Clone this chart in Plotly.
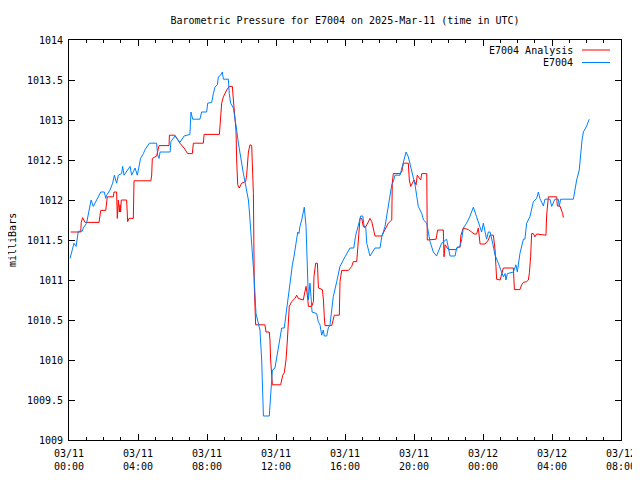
import pandas as pd
import plotly.graph_objects as go

# ---- data (hours after 2025-03-11 00:00 UTC, pressure in mbar) ----
start_time = "2025-03-11 00:00"

analysis_hours = [0.10, 0.68, 0.71, 0.79, 0.93, 1.74, 1.84, 2.13, 2.22, 2.57, 2.61, 2.76, 2.80, 2.86,
                  2.92, 2.96, 2.99, 3.03, 3.34, 3.40, 3.48, 3.73, 3.77, 4.74, 4.79, 4.83, 5.08, 5.12,
                  5.22, 5.80, 5.82, 6.14, 6.43, 6.67, 6.88, 7.15, 7.21, 7.79, 7.83, 8.72, 8.79, 8.85,
                  8.95, 9.14, 9.29, 9.47, 9.53, 9.58, 9.68, 9.72, 9.78, 9.87, 10.01, 10.24, 10.30,
                  10.40, 10.49, 10.59, 10.65, 10.69, 10.74, 10.82, 11.36, 11.42, 11.61, 11.65, 11.69,
                  11.75, 11.79, 12.27, 12.39, 12.48, 12.58, 12.66, 12.77, 12.91, 13.10, 13.20, 13.29,
                  13.58, 13.74, 13.82, 13.88, 14.07, 14.17, 14.20, 14.30, 14.40, 14.46, 14.69, 14.75,
                  14.80, 14.84, 15.23, 15.38, 15.67, 15.71, 15.81, 16.20, 16.39, 16.48, 16.68, 16.77,
                  16.87, 16.97, 17.06, 17.22, 17.45, 17.55, 17.74, 18.13, 18.32, 18.51, 18.71, 18.74,
                  18.80, 19.19, 19.29, 19.38, 19.67, 19.73, 19.81, 20.00, 20.12, 20.19, 20.39, 20.45,
                  20.74, 20.77, 21.28, 21.37, 21.70, 21.74, 21.80, 22.00, 22.47, 22.51, 22.67, 22.72,
                  22.86, 23.15, 23.34, 23.48, 23.63, 23.73, 23.83, 24.12, 24.31, 24.41, 24.60, 24.70,
                  24.75, 24.79, 24.99, 25.08, 25.18, 25.76, 25.82, 26.14, 26.24, 26.34, 26.53, 26.63,
                  26.69, 26.76, 26.82, 26.92, 27.01, 27.11, 27.65, 27.69, 27.79, 28.27, 28.31, 28.46,
                  28.55, 28.62, 28.66]
analysis_mbar = [1011.60, 1011.60, 1011.72, 1011.78, 1011.72, 1011.72, 1011.87, 1011.87, 1012.04, 1012.04,
                 1012.10, 1012.10, 1011.77, 1012.00, 1011.85, 1011.94, 1011.85, 1012.00, 1012.00, 1011.73,
                 1011.77, 1011.77, 1012.24, 1012.24, 1012.30, 1012.52, 1012.55, 1012.60, 1012.68, 1012.68,
                 1012.81, 1012.81, 1012.71, 1012.65, 1012.58, 1012.58, 1012.71, 1012.71, 1012.82, 1012.82,
                 1013.04, 1013.21, 1013.29, 1013.375, 1013.42, 1013.42, 1013.25, 1013.15, 1012.875, 1012.50,
                 1012.19, 1012.15, 1012.21, 1012.23, 1012.31, 1012.60, 1012.69, 1012.68, 1012.375, 1012.08,
                 1010.92, 1010.44, 1010.44, 1010.35, 1010.35, 1010.25, 1010.00, 1009.79, 1009.69, 1009.69,
                 1009.81, 1009.84, 1010.00, 1010.25, 1010.67, 1010.73, 1010.77, 1010.81, 1010.77, 1010.75,
                 1010.92, 1010.81, 1010.67, 1010.67, 1010.73, 1011.04, 1011.21, 1011.21, 1010.90, 1010.88,
                 1010.75, 1010.54, 1010.43, 1010.43, 1010.56, 1010.56, 1010.98, 1011.12, 1011.12, 1011.17,
                 1011.23, 1011.23, 1011.50, 1011.77, 1011.77, 1011.67, 1011.67, 1011.77, 1011.73, 1011.55,
                 1011.55, 1011.625, 1011.71, 1011.75, 1012.21, 1012.33, 1012.33, 1012.35, 1012.46, 1012.46,
                 1012.25, 1012.17, 1012.25, 1012.19, 1012.31, 1012.25, 1012.33, 1012.33, 1011.50, 1011.51,
                 1011.625, 1011.625, 1011.29, 1011.44, 1011.38, 1011.38, 1011.41, 1011.41, 1011.56, 1011.65,
                 1011.63, 1011.60, 1011.575, 1011.575, 1011.65, 1011.45, 1011.45, 1011.50, 1011.56, 1011.56,
                 1011.375, 1011.17, 1011.01, 1011.00, 1011.06, 1011.15, 1011.15, 1010.88, 1010.88, 1010.94,
                 1010.97, 1010.98, 1011.00, 1011.09, 1011.29, 1011.58, 1011.58, 1011.54, 1011.575, 1011.56,
                 1011.81, 1012.04, 1012.04, 1011.925, 1011.925, 1011.875, 1011.83, 1011.78]

station_hours = [0.06, 0.21, 0.29, 0.41, 0.48, 0.54, 0.77, 0.83, 1.02, 1.16, 1.28, 1.41, 1.51, 1.64, 1.84,
                 2.05, 2.13, 2.18, 2.38, 2.53, 2.63, 2.76, 2.86, 3.05, 3.11, 3.19, 3.54, 3.63, 3.83, 3.96,
                 4.08, 4.15, 4.31, 4.41, 4.66, 5.08, 5.14, 5.22, 5.28, 5.86, 5.91, 6.14, 6.43, 6.67, 7.01,
                 7.07, 7.17, 7.59, 7.69, 7.98, 8.04, 8.27, 8.37, 8.46, 8.60, 8.66, 8.79, 8.89, 8.95, 9.24,
                 9.29, 9.37, 9.53, 9.62, 9.72, 9.82, 9.91, 10.01, 10.11, 10.20, 10.30, 10.40, 10.45, 10.49,
                 10.59, 10.69, 10.74, 10.84, 10.98, 11.07, 11.17, 11.23, 11.27, 11.61, 11.69, 11.79, 11.94,
                 12.04, 12.14, 12.23, 12.33, 12.48, 12.56, 12.68, 12.77, 12.85, 12.95, 13.04, 13.10, 13.20,
                 13.26, 13.33, 13.39, 13.49, 13.58, 13.64, 13.74, 13.82, 13.88, 13.93, 13.97, 14.03, 14.09,
                 14.36, 14.45, 14.55, 14.65, 14.74, 14.80, 14.94, 15.03, 15.13, 15.23, 15.32, 15.52, 15.71,
                 16.00, 16.29, 16.51, 16.62, 16.83, 16.91, 17.03, 17.12, 17.20, 17.26, 17.45, 17.74, 18.03,
                 18.13, 18.32, 18.51, 18.61, 18.71, 18.80, 18.90, 19.19, 19.38, 19.54, 19.67, 19.86, 20.06,
                 20.25, 20.45, 20.55, 20.74, 20.93, 21.12, 21.31, 21.60, 21.89, 22.09, 22.38, 22.47, 22.67,
                 22.76, 22.86, 23.05, 23.25, 23.44, 23.63, 23.83, 23.92, 24.02, 24.21, 24.31, 24.41, 24.56,
                 24.70, 24.89, 25.08, 25.18, 25.28, 25.33, 25.41, 25.76, 25.91, 25.99, 26.14, 26.34, 26.43,
                 26.53, 26.72, 26.92, 27.11, 27.21, 27.30, 27.50, 27.59, 27.88, 27.98, 28.17, 28.37, 28.42,
                 28.50, 29.24, 29.33, 29.43, 29.58, 29.66, 29.74, 29.82, 30.01, 30.16]
station_mbar = [1011.27, 1011.40, 1011.46, 1011.42, 1011.54, 1011.61, 1011.61, 1011.65, 1011.71, 1011.85,
                1012.00, 1011.92, 1011.96, 1012.02, 1012.10, 1012.10, 1012.02, 1012.06, 1012.125, 1012.21,
                1012.31, 1012.21, 1012.31, 1012.33, 1012.42, 1012.31, 1012.42, 1012.31, 1012.40, 1012.31,
                1012.42, 1012.52, 1012.58, 1012.63, 1012.71, 1012.71, 1012.56, 1012.52, 1012.60, 1012.60,
                1012.73, 1012.80, 1012.72, 1012.80, 1012.82, 1013.10, 1013.01, 1013.01, 1013.10, 1013.10,
                1013.21, 1013.22, 1013.33, 1013.41, 1013.44, 1013.54, 1013.56, 1013.60, 1013.51, 1013.51,
                1013.33, 1013.21, 1013.15, 1013.04, 1012.875, 1012.71, 1012.58, 1012.46, 1012.33, 1012.23,
                1012.125, 1012.00, 1011.875, 1011.76, 1011.54, 1011.25, 1011.00, 1010.58, 1010.46, 1010.375,
                1010.00, 1009.50, 1009.30, 1009.30, 1009.54, 1009.875, 1009.90, 1010.04, 1010.17, 1010.29,
                1010.40, 1010.40, 1010.54, 1010.75, 1010.92, 1011.04, 1011.19, 1011.29, 1011.375, 1011.54,
                1011.60, 1011.58, 1011.67, 1011.75, 1011.83, 1011.91, 1011.67, 1011.25, 1010.75, 1010.875,
                1010.96, 1010.79, 1010.60, 1010.58, 1010.48, 1010.44, 1010.31, 1010.375, 1010.30, 1010.30,
                1010.40, 1010.44, 1010.65, 1010.79, 1010.98, 1011.17, 1011.29, 1011.40, 1011.40, 1011.56,
                1011.73, 1011.80, 1011.80, 1011.65, 1011.67, 1011.46, 1011.30, 1011.40, 1011.40, 1011.54,
                1011.67, 1011.90, 1012.04, 1012.19, 1012.23, 1012.31, 1012.31, 1012.46, 1012.60, 1012.54,
                1012.375, 1012.19, 1011.92, 1011.83, 1011.75, 1011.71, 1011.48, 1011.35, 1011.30, 1011.46,
                1011.51, 1011.30, 1011.30, 1011.40, 1011.42, 1011.50, 1011.65, 1011.71, 1011.80, 1011.91,
                1011.79, 1011.65, 1011.60, 1011.71, 1011.51, 1011.60, 1011.60, 1011.46, 1011.31, 1011.21,
                1011.10, 1011.04, 1011.08, 1011.00, 1011.08, 1011.10, 1011.19, 1011.10, 1011.33, 1011.51,
                1011.51, 1011.71, 1011.79, 1011.98, 1012.02, 1012.10, 1012.02, 1011.925, 1012.01, 1012.01,
                1011.92, 1012.01, 1012.01, 1011.92, 1012.01, 1012.01, 1012.125, 1012.25, 1012.375, 1012.625,
                1012.75, 1012.85, 1012.925, 1013.01]

x_tick_hours = [0, 4, 8, 12, 16, 20, 24, 28, 32]
x_tick_labels = ["03/11<br>00:00", "03/11<br>04:00", "03/11<br>08:00", "03/11<br>12:00",
                 "03/11<br>16:00", "03/11<br>20:00", "03/12<br>00:00", "03/12<br>04:00",
                 "03/12<br>08:00"]
y_tick_values = [1009, 1009.5, 1010, 1010.5, 1011, 1011.5, 1012, 1012.5, 1013, 1013.5, 1014]
y_tick_labels = ["1009", "1009.5", "1010", "1010.5", "1011", "1011.5", "1012", "1012.5",
                 "1013", "1013.5", "1014"]

series_names = ["E7004 Analysis", "E7004"]
series_colors = ["#ff0000", "#0080ff"]
title_text = "Barometric Pressure for E7004 on 2025-Mar-11 (time in UTC)"
y_title = "milliBars"

# ---- build ----
t0 = pd.Timestamp(start_time)
to_time = lambda hrs: [t0 + pd.Timedelta(hours=h) for h in hrs]

FONT = "DejaVu Sans Mono, Liberation Mono, monospace"

fig = go.Figure()
fig.add_trace(go.Scatter(x=to_time(analysis_hours), y=analysis_mbar, mode="lines",
                         name=series_names[0], line=dict(color=series_colors[0], width=1)))
fig.add_trace(go.Scatter(x=to_time(station_hours), y=station_mbar, mode="lines",
                         name=series_names[1], line=dict(color=series_colors[1], width=1)))

# page body has an 8px default margin; size the figure so it fits the 640x480 window
OFF = 8
W, H = 640 - OFF, 480 - 2 * OFF
# target plot area in window pixels: x 69..621, y 40..440
PL, PR, PT, PB = 69, 621, 40, 440
L, R, T, B = PL - OFF, (W + OFF) - PR, PT - OFF, (H + OFF) - PB
PW, PH = PR - PL, PB - PT
px = lambda x: (x - PL) / PW
py = lambda y: (PB - y) / PH

fig.update_layout(
    width=W, height=H,
    margin=dict(l=L, r=R, t=T, b=B, autoexpand=False),
    plot_bgcolor="white", paper_bgcolor="white",
    font=dict(family=FONT, size=10, color="black"),
    showlegend=False,
    title=dict(text=title_text, x=0.5, xref="paper", xanchor="center",
               y=1 - (20 - OFF) / H, yref="container", yanchor="middle",
               font=dict(family=FONT, size=10, color="black")),
)

fig.update_xaxes(
    type="date",
    range=to_time([0, 32]),
    tickmode="array", tickvals=to_time(x_tick_hours), ticktext=x_tick_labels,
    ticks="inside", ticklen=6, tickwidth=1, tickcolor="black",
    showline=True, linecolor="black", linewidth=1, mirror="allticks",
    showgrid=False, zeroline=False, ticklabelstandoff=4,
    minor=dict(ticks="inside", ticklen=3, tickcolor="black", dtick=3600000,
               tick0=t0, showgrid=False),
)
fig.update_yaxes(
    range=[1009, 1014],
    tickmode="array", tickvals=y_tick_values, ticktext=y_tick_labels,
    ticks="inside", ticklen=6, tickwidth=1, tickcolor="black",
    showline=True, linecolor="black", linewidth=1, mirror="allticks",
    showgrid=False, zeroline=False, ticklabelstandoff=3,
)

# y-axis title
fig.add_annotation(text=y_title, xref="paper", yref="paper", x=px(12), y=0.5,
                   textangle=-90, showarrow=False, xanchor="center", yanchor="middle",
                   font=dict(family=FONT, size=10, color="black"))

# legend (gnuplot style: right-aligned text, sample line on the right)
for i, (nm, col) in enumerate(zip(series_names, series_colors)):
    yy = 50 + 12.5 * i
    fig.add_annotation(text=nm, xref="paper", yref="paper", x=px(575), y=py(yy),
                       showarrow=False, xanchor="right", yanchor="middle",
                       font=dict(family=FONT, size=10, color="black"))
    fig.add_shape(type="line", xref="paper", yref="paper",
                  x0=px(582), x1=px(610), y0=py(yy), y1=py(yy),
                  line=dict(color=col, width=1))

fig.write_html("out.html")
